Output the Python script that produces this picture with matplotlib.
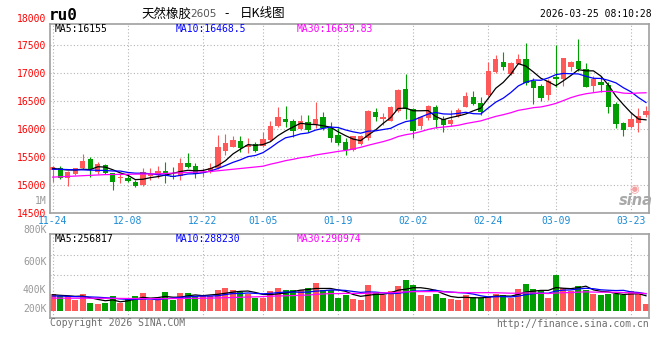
import numpy as np
import pandas as pd
import matplotlib
matplotlib.use("Agg")
from matplotlib import pyplot as plt

# daily K data of ru0, 80 trading days (11-24 .. 03-25)
opens = [15260, 15310, 15131, 15191, 15298, 15459, 15239, 15363, 15209, 15131,
         15120, 15060, 15000, 15167, 15179, 15244, 15167, 15167, 15399, 15334,
         15209, 15239, 15298, 15607, 15685, 15792, 15685, 15732, 15703, 15804,
         16054, 16173, 16143, 16000, 16131, 16072, 16220, 16024, 15893, 15774,
         15630, 15732, 15834, 16298, 16179, 16149, 16328, 16715, 16358, 16060,
         16191, 16387, 16179, 16090, 16227, 16399, 16566, 16465, 16608, 17024,
         17202, 16982, 17167, 17250, 16863, 16774, 16608, 16923, 16893, 17101,
         17214, 17071, 16774, 16845, 16786, 16447, 16108, 16030, 16108, 16250]
highs = [15330, 15346, 15245, 15310, 15548, 15506, 15405, 15370, 15215, 15191,
         15197, 15090, 15310, 15310, 15346, 15405, 15316, 15477, 15566, 15387,
         15298, 15387, 15893, 15905, 15875, 15875, 15834, 15774, 15953, 16149,
         16387, 16411, 16173, 16250, 16250, 16488, 16298, 16131, 16012, 15834,
         15880, 15890, 16340, 16376, 16280, 16417, 16710, 16982, 16376, 16238,
         16420, 16429, 16227, 16340, 16376, 16667, 16685, 16566, 17191, 17321,
         17381, 17190, 17340, 17536, 16905, 16804, 16893, 17500, 17270, 17215,
         17607, 17179, 16940, 16953, 16834, 16488, 16131, 16298, 16370, 16405]
lows = [15045, 15108, 14989, 15170, 15290, 15149, 15197, 15190, 14911, 15042,
        15060, 14971, 14989, 15090, 15120, 15042, 15108, 15090, 15298, 15131,
        15149, 15209, 15290, 15536, 15679, 15596, 15566, 15584, 15685, 15786,
        16030, 16030, 15863, 15982, 15941, 16024, 15982, 15762, 15715, 15536,
        15600, 15720, 15810, 16149, 16072, 16140, 16300, 16179, 15834, 16000,
        16167, 16012, 15953, 16060, 16220, 16390, 16429, 16250, 16596, 16994,
        17060, 16964, 17160, 16786, 16447, 16506, 16518, 16744, 16774, 17042,
        17042, 16744, 16667, 16667, 16280, 16012, 15881, 16020, 15953, 16209]
closes = [15325, 15120, 15239, 15298, 15429, 15280, 15381, 15209, 15060, 15149,
          15072, 14989, 15239, 15203, 15244, 15209, 15143, 15399, 15316, 15197,
          15239, 15310, 15673, 15744, 15804, 15667, 15715, 15607, 15816, 16060,
          16208, 16125, 15964, 16149, 15976, 16173, 16024, 15834, 15744, 15625,
          15870, 15881, 16328, 16209, 16209, 16387, 16697, 16358, 15971, 16209,
          16405, 16167, 16072, 16167, 16346, 16584, 16447, 16310, 17042, 17250,
          17113, 17173, 17250, 16822, 16732, 16548, 16863, 16893, 17262, 17202,
          17071, 16756, 16893, 16792, 16399, 16090, 15989, 16179, 16227, 16328]
volumes_k = [278, 251, 251, 178, 290, 139, 111, 139, 245, 134,
             217, 251, 295, 178, 178, 312, 189, 295, 295, 251,
             251, 251, 345, 384, 345, 317, 278, 223, 223, 329,
             379, 345, 345, 345, 379, 468, 345, 345, 223, 262,
             206, 189, 429, 306, 262, 329, 412, 512, 429, 262,
             245, 278, 223, 206, 178, 262, 234, 223, 245, 290,
             262, 223, 362, 446, 362, 329, 223, 596, 390, 329,
             412, 345, 290, 262, 290, 278, 262, 329, 290, 111]

# moving averages before enough history is on screen
ma5_head = [15298, 15280, 15268, 15268]
ma10_head = [15280, 15280, 15275, 15270, 15270, 15265, 15262, 15258, 15250]
ma30_head_idx = [0, 7, 14, 21, 28]
ma30_head = [15140, 15185, 15200, 15240, 15335]
vma5_head = [272, 262, 255, 245]
vma10_head = [250, 250, 245, 240, 238, 235, 230, 222, 215]
vma30_head_idx = [0, 7, 14, 21, 28]
vma30_head = [215, 212, 205, 215, 240]

tick_idx = [0, 10, 20, 28, 38, 48, 58, 67, 77]
tick_labels = ["11-24", "12-08", "12-22", "01-05", "01-19",
               "02-02", "02-24", "03-09", "03-23"]
price_ticks = [14500, 15000, 15500, 16000, 16500, 17000, 17500]

RED = "#ff5858"
GREEN = "#009e00"
GRID = "#b4b4b4"
EDGE = "#a0a0a0"
DATE_BLUE = "#1b8bd6"
MONO = "DejaVu Sans Mono"
CJK = ["Noto Sans CJK SC", "DejaVu Sans"]

W, H = 660, 360


def box(l, t, r, b):
    return [l / W, 1 - b / H, (r - l) / W, (b - t) / H]


def ma_line(values, n, head, head_idx=None):
    s = pd.Series(values, dtype=float).rolling(n).mean()
    x_tail = list(range(n - 1, len(values)))
    y_tail = list(s.iloc[n - 1:])
    if head_idx is None:
        head_idx = list(range(len(head)))
    return head_idx + x_tail, list(head) + y_tail


def dotted_grid(a, xs=(), ys=()):
    for v in xs:
        a.axvline(v, color=GRID, lw=0.8, ls=(0, (1, 2)), zorder=0)
    for v in ys:
        a.axhline(v, color=GRID, lw=0.8, ls=(0, (1, 2)), zorder=0)


def main():
    x = np.arange(len(closes))
    o = np.array(opens)
    c = np.array(closes)
    up = c >= o
    colors = np.where(up, RED, GREEN)

    fig = plt.figure(figsize=(6.6, 3.6), dpi=100)
    fig.patch.set_facecolor("white")

    # ---- price panel
    ax = fig.add_axes(box(50, 24, 649, 213))
    ax.set_xlim(-0.36, 79.4)
    ax.set_ylim(14515, 17873)
    dotted_grid(ax, tick_idx, price_ticks)

    ax.vlines(x, lows, highs, colors=colors, lw=0.8, zorder=2)
    body = np.maximum(np.abs(c - o), 10)
    ax.bar(x, body, bottom=np.minimum(o, c), width=0.72, color=colors,
           lw=0, zorder=3)

    for n, head, hidx, col in [(5, ma5_head, None, "black"),
                               (10, ma10_head, None, "#0000ff"),
                               (30, ma30_head, ma30_head_idx, "#ff00ff")]:
        mx, my = ma_line(closes, n, head, hidx)
        ax.plot(mx, my, color=col, lw=0.9, zorder=4)

    ax.set_yticks(price_ticks)
    ax.set_yticklabels([str(p) for p in price_ticks], color="#ff0000",
                       fontsize=7, family=MONO)
    ax.tick_params(axis="y", length=0, pad=3)
    ax.set_xticks(tick_idx)
    ax.set_xticklabels(tick_labels, color=DATE_BLUE, fontsize=7, family=MONO)
    ax.tick_params(axis="x", length=0, pad=2)
    for sp in ax.spines.values():
        sp.set_color(EDGE)
        sp.set_linewidth(1.2)
    ax.text(-0.006, 0.065, "1M", transform=ax.transAxes, ha="right",
            va="center", fontsize=7, family=MONO, color="#999999")
    ax.text(-0.006, 1.026, "18000", transform=ax.transAxes, ha="right",
            va="center", fontsize=7, family=MONO, color="#ff0000")

    for xf, s, col in [(0.008, "MA5:16155", "black"),
                       (0.21, "MA10:16468.5", "#0000ff"),
                       (0.412, "MA30:16639.83", "#ff00ff")]:
        ax.text(xf, 0.971, s, transform=ax.transAxes, fontsize=7,
                family=MONO, color=col, va="center")

    # sina watermark
    ax.text(0.978, 0.066, "sina", transform=ax.transAxes, ha="center",
            va="center", fontsize=10.5, style="italic", weight="bold",
            color="#a8a8a8")
    ax.text(0.975, 0.125, "\u25c9", transform=ax.transAxes, ha="center",
            va="center", fontsize=8, color="#f4a0a0")

    # ---- volume panel
    av = fig.add_axes(box(50, 234, 649, 318))
    av.set_xlim(-0.36, 79.4)
    px_k = 16.7
    lo, hi = -7 * px_k, 77 * px_k
    av.set_ylim(lo, hi)
    dotted_grid(av, tick_idx, [lo + f * (hi - lo) for f in (0.75, 0.512)])
    av.bar(x, volumes_k, width=0.8, color=colors, lw=0, zorder=2)
    for n, head, hidx, col in [(5, vma5_head, None, "black"),
                               (10, vma10_head, None, "#0000ff"),
                               (30, vma30_head, vma30_head_idx, "#ff00ff")]:
        mx, my = ma_line(volumes_k, n, head, hidx)
        av.plot(mx, my, color=col, lw=0.9, zorder=4)
    av.set_xticks([])
    av.set_yticks([])
    for sp in av.spines.values():
        sp.set_color(EDGE)
        sp.set_linewidth(1.2)
    for lab, frac in [("800K", 1.045), ("600K", 0.667), ("400K", 0.333),
                      ("200K", 0.107)]:
        av.text(-0.006, frac, lab, transform=av.transAxes, ha="right",
                va="center", fontsize=7, family=MONO, color="#999999")
    for xf, s, col in [(0.008, "MA5:256817", "black"),
                       (0.21, "MA10:288230", "#0000ff"),
                       (0.412, "MA30:290974", "#ff00ff")]:
        av.text(xf, 0.945, s, transform=av.transAxes, fontsize=7,
                family=MONO, color=col, va="center")

    # ---- header / footer
    fig.text(49 / W, 1 - 15 / H, "ru0", fontsize=11.5, family=MONO,
             weight="bold", va="center")
    fig.text(141 / W, 1 - 14 / H, "天然橡胶", fontsize=9, family=CJK,
             va="center")
    fig.text(190 / W, 1 - 14 / H, "2605", fontsize=7.5, family="DejaVu Sans",
             color="#555555", va="center")
    fig.text(224 / W, 1 - 14 / H, "-", fontsize=9, family=CJK, va="center")
    fig.text(240 / W, 1 - 14 / H, "日K线图", fontsize=9, family=CJK,
             va="center")
    fig.text(652 / W, 1 - 14 / H, "2026-03-25 08:10:28", fontsize=7,
             family=MONO, ha="right", va="center")
    fig.text(50 / W, 1 - 323.5 / H, "Copyright 2026 SINA.COM", fontsize=7,
             family=MONO, color="#6e6e6e", va="center")
    fig.text(649 / W, 1 - 324 / H, "http://finance.sina.com.cn", fontsize=7,
             family=MONO, color="#6e6e6e", ha="right", va="center")

    fig.savefig("out.png", dpi=100)


if __name__ == "__main__":
    main()
